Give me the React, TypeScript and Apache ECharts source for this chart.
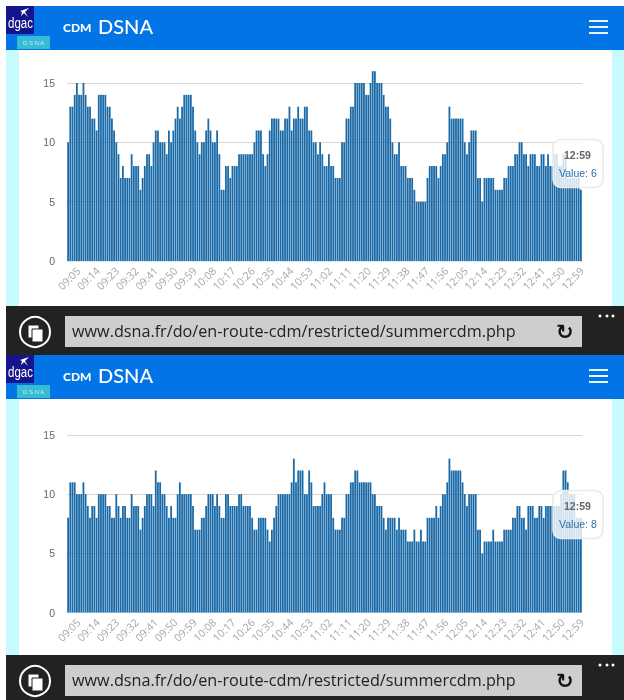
import React, { useEffect, useRef } from "react";
import * as echarts from "echarts";

const minuteLabels: string[] = [];
for (let m = 9 * 60 + 5; m <= 12 * 60 + 59; m++) {
  minuteLabels.push(`${String(Math.floor(m / 60)).padStart(2, "0")}:${String(m % 60).padStart(2, "0")}`);
}
const tickLabels = ["09:05","09:14","09:23","09:32","09:41","09:50","09:59","10:08","10:17","10:26","10:35","10:44","10:53","11:02","11:11","11:20","11:29","11:38","11:47","11:56","12:05","12:14","12:23","12:32","12:41","12:50","12:59"];

const topValues = [
  10,13,13,14,15,14,14,15,14,13,13,12,12,11,14,14,14,14,13,13,12,11,10,9,7,8,7,7,7,9,8,8,8,6,7,8,9,9,8,10,11,11,10,10,10,9,11,10,11,12,13,12,13,14,14,14,14,13,11,10,9,10,10,11,12,11,10,10,11,9,6,6,8,8,
  7,8,8,8,9,9,9,9,9,9,9,10,11,11,11,9,8,9,11,12,12,12,12,11,11,12,12,13,11,12,12,13,12,12,13,13,11,11,10,10,9,10,9,8,8,9,8,8,7,7,7,10,10,12,12,13,13,15,15,15,15,15,14,14,15,16,16,15,15,15,14,13,13,12,10,9,9,10,8,8,
  8,7,7,7,6,5,5,5,5,5,7,8,8,8,8,7,8,9,9,10,13,12,12,12,12,12,12,10,9,10,11,11,11,7,7,5,7,7,7,7,7,6,6,6,6,7,7,8,8,8,9,9,10,10,9,9,8,9,9,9,8,8,9,9,8,9,8,8,9,9,8,8,9,9,7,7,7,7,7,7,6,
];
const bottomValues = [
  8,11,11,11,10,10,10,11,10,9,8,9,9,8,10,10,10,10,9,9,8,8,10,9,8,9,9,8,8,10,9,9,9,7,8,9,10,10,10,9,12,11,11,10,10,9,8,9,8,8,10,11,10,10,10,10,10,9,7,7,7,8,8,9,10,10,10,9,10,9,8,8,10,10,
  9,9,9,9,10,10,9,9,9,9,8,7,7,8,8,8,8,7,6,7,8,9,10,10,10,10,10,10,11,13,11,12,12,12,10,10,12,11,9,9,9,9,10,11,10,10,10,8,7,7,7,8,8,10,10,11,11,12,12,11,11,11,11,11,11,10,10,9,9,9,8,7,8,8,8,8,7,8,7,7,
  7,6,6,6,7,6,6,7,6,6,8,8,8,8,9,8,9,10,10,11,13,12,12,12,12,12,11,10,9,10,10,10,10,7,7,5,6,6,6,6,7,6,6,6,6,7,7,7,7,8,8,9,9,8,8,7,9,9,9,8,8,9,9,8,9,9,9,9,9,9,9,10,12,12,11,10,10,10,8,8,8,
];
const yTicks = [0, 5, 10, 15];
const urlText = "www.dsna.fr/do/en-route-cdm/restricted/summercdm.php";
const panels = [
  { values: topValues, tipTitle: "12:59", tipValue: "Value: 6" },
  { values: bottomValues, tipTitle: "12:59", tipValue: "Value: 8" },
];
const panelOffsets = [0, 349];

const text = (x: number, y: number, t: string, font: any, z = 20, extra: any = {}) => ({
  type: "text", x, y, z, ...extra, style: { text: t, fill: "#fff", textVerticalAlign: "middle", ...font },
});
const rect = (x: number, y: number, w: number, h: number, fill: string, z = 1, r = 0, extra: any = {}) => ({
  type: "rect", z, shape: { x, y, width: w, height: h, r }, style: { fill, ...extra },
});

function chrome(): any[] {
  const out: any[] = [];
  out.push(rect(6, 6, 618, 694, "#fff", 0));
  out.push(rect(6, 50, 13, 650, "#c8fbfd", 1));
  out.push(rect(612, 50, 12, 650, "#c8fbfd", 1));
  panelOffsets.forEach((dy) => {
    out.push(rect(6, 6 + dy, 618, 44, "#0274e6", 2));
    out.push(rect(6, 6 + dy, 28, 28, "#14148c", 3));
    out.push(rect(17, 36 + dy, 33, 13, "#38bcd6", 3));
    out.push(text(8, 23 + dy, "dgac", { fontFamily: "Liberation Sans", fontSize: 14 }, 20, { scaleX: 0.82 }));
    out.push({ type: "polygon", z: 20, shape: { points: [[20, 11 + dy], [29, 8 + dy], [25, 12 + dy], [28, 17 + dy], [24, 13 + dy], [21, 16 + dy], [22, 12 + dy]] }, style: { fill: "#fff" } });
    out.push(text(23, 43 + dy, "D S N A", { fontFamily: "Liberation Sans", fontSize: 6, fill: "#bfeef5" }));
    out.push(text(63, 27 + dy, "CDM", { fontFamily: "Lato", fontSize: 12, fontWeight: 900 }));
    out.push(text(98, 26 + dy, "DSNA", { fontFamily: "Lato", fontSize: 20, fontWeight: 500 }));
    [21, 27, 33].forEach((ly) => out.push(rect(589, ly + dy - 1, 19, 2, "#e8f4ff", 20)));
  });
  [0, 349].forEach((dy) => {
    out.push(rect(6, 306 + dy, 618, 49, "#222", 5));
    out.push(rect(65, 316 + dy, 517, 31, "#cecece", 6));
    out.push(text(72, 331 + dy, urlText, { fontFamily: "Open Sans", fontSize: 16.2, fill: "#222" }, 20));
    out.push({ type: "circle", z: 20, shape: { cx: 35, cy: 332 + dy, r: 15 }, style: { fill: "none", stroke: "#fff", lineWidth: 2 } });
    out.push(rect(28, 325 + dy, 11, 13, "#fff", 20, 0, { stroke: "#222", lineWidth: 1 }));
    out.push(rect(32, 329 + dy, 11, 13, "#fff", 21, 0, { stroke: "#222", lineWidth: 1 }));
    out.push(text(556, 332 + dy, "↻", { fontFamily: "DejaVu Sans", fontSize: 21, fontWeight: 700, fill: "#111" }));
    [600, 607, 613].forEach((cx) => out.push({ type: "circle", z: 20, shape: { cx, cy: 316 + dy, r: 1.5 }, style: { fill: "#fff" } }));
  });
  panels.forEach((p, i) => {
    const dy = i === 0 ? 0 : 351;
    out.push(rect(553, 139.5 + dy, 50, 48, "rgba(255,255,255,0.8)", 30, 8, { stroke: "#e9e9e9", lineWidth: 1.5 }));
    out.push(text(564, 155 + dy, p.tipTitle, { fontFamily: "Liberation Sans", fontSize: 10.5, fontWeight: 700, fill: "#666" }, 31));
    out.push(text(559, 172.5 + dy, p.tipValue, { fontFamily: "Liberation Sans", fontSize: 10.5, fill: "#2a6fa8" }, 31));
  });
  return out;
}

export default function App() {
  const ref = useRef<HTMLDivElement>(null);
  useEffect(() => {
    const chart = echarts.init(ref.current!, undefined, { renderer: "svg" });
    const tops = [83, 435];
    const heights = [178, 177.5];
    const grid: any[] = [];
    const xAxis: any[] = [];
    const yAxis: any[] = [];
    const series: any[] = [];
    panels.forEach((p, i) => {
      grid.push({ left: 67, width: 515, top: tops[i], height: heights[i] });
      xAxis.push({
        type: "category", gridIndex: i * 2, data: minuteLabels, boundaryGap: true,
        axisLine: { lineStyle: { color: "#d8e6f0" } }, axisTick: { show: false }, axisLabel: { show: false },
      });
      yAxis.push({
        type: "value", gridIndex: i * 2, min: 0, max: 15, interval: 5,
        axisLine: { show: false }, axisTick: { show: false },
        axisLabel: { color: "#666", fontSize: 10.5, margin: 12, fontFamily: "Liberation Sans",
          formatter: (v: number) => (yTicks.includes(v) ? String(v) : "") },
        splitLine: { lineStyle: { color: "#d6d6d6", width: 1 } },
      });
      series.push({
        type: "bar", xAxisIndex: i * 2, yAxisIndex: i * 2, data: p.values, barWidth: 1.8, clip: false, z: 3,
        itemStyle: { color: "#0f62a3", opacity: 0.95 },
      });
      // labels sit on their own evenly spaced scale, slightly narrower than the bars
      grid.push({ left: 78.5, width: 503.5, top: tops[i], height: heights[i] });
      xAxis.push({
        type: "category", gridIndex: i * 2 + 1, data: tickLabels, boundaryGap: false,
        axisLine: { show: false }, axisTick: { show: false },
        axisLabel: { interval: 0, rotate: 45, color: "#a5a5a5", fontSize: 10.5, margin: 8, fontFamily: "Open Sans" },
      });
      yAxis.push({ type: "value", gridIndex: i * 2 + 1, min: 0, max: 15, show: false, splitLine: { show: false } });
    });
    chart.setOption({ animation: false, grid, xAxis, yAxis, series, graphic: { elements: chrome() } });
    return () => chart.dispose();
  }, []);
  return <div ref={ref} style={{ position: "fixed", left: 0, top: 0, width: 624, height: 700 }} />;
}
